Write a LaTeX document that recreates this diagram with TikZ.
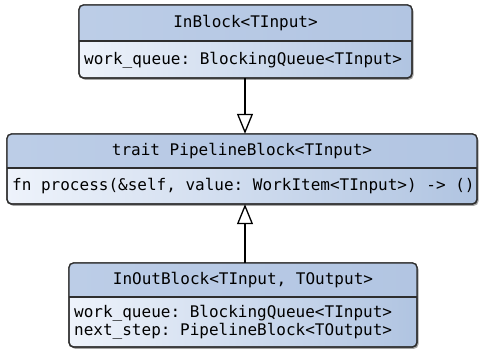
\documentclass[tikz,border=0pt]{standalone}
\usepackage{fontspec}
\setmonofont{DejaVu Sans Mono}
\usetikzlibrary{arrows.meta}
\definecolor{hdrL}{HTML}{BCCDE7}
\definecolor{hdrR}{HTML}{B2C5E2}
\definecolor{bodyL}{HTML}{EEF3FB}
\definecolor{bodyR}{HTML}{B0C4E1}
\definecolor{edge}{HTML}{2E2E2E}
\tikzset{
  x=1pt, y=-1pt,
  boxshape/.style={draw=edge, line width=1.3pt, rounded corners=4.5pt, left color=bodyL, right color=bodyR},
  shadowshape/.style={fill=black, opacity=0.35, rounded corners=4.5pt},
  hdrfill/.style={left color=hdrL, right color=hdrR},
  divider/.style={draw=edge, line width=1.1pt},
  txt/.style={font=\ttfamily\fontsize{16}{18}\selectfont, inner sep=0pt, text=black},
  bodytxt/.style={txt, anchor=west, align=left},
  conn/.style={draw=black, line width=1.3pt},
  genarrow/.style={conn, -{Triangle[open, width=16pt, length=20pt, line width=1.3pt]}},
}
\newcommand{\umlbox}[6]{% name, x1, y1, x2, y2, ydiv
  \path[shadowshape] (#2+1.5,#3+1.8) rectangle (#4+1.5,#5+1.8);
  \path[boxshape] (#2,#3) rectangle (#4,#5);
  \begin{scope}
    \clip[rounded corners=4.5pt] (#2,#3) rectangle (#4,#5);
    \path[hdrfill] (#2,#3) rectangle (#4,#6);
  \end{scope}
  \draw[draw=edge, line width=1.3pt, rounded corners=4.5pt] (#2,#3) rectangle (#4,#5);
  \draw[divider] (#2,#6) -- (#4,#6);
  \node[inner sep=0pt, minimum width=#4pt-#2pt, minimum height=#5pt-#3pt] (#1) at ({(#2+#4)/2},{(#3+#5)/2}) {};
}
\begin{document}
\begin{tikzpicture}
\useasboundingbox (0,0) rectangle (480,353);
% boxes
\umlbox{inb}{79}{5}{412}{78}{41}
\umlbox{pipe}{7}{134}{477}{204}{168}
\umlbox{inout}{69}{263}{417}{347}{297}
% texts
\node[txt] (inbh) at (245.5,23) {InBlock<TInput>};
\node[bodytxt] (inbb) at (84,60) {work\_queue: BlockingQueue<TInput>};
\node[txt] (pipeh) at (242,151) {trait PipelineBlock<TInput>};
\node[bodytxt] (pipeb) at (12,186) {fn process(\&self, value: WorkItem<TInput>) -> ()};
\node[txt] (inouth) at (243,280) {InOutBlock<TInput, TOutput>};
\node[bodytxt] (inoutb) at (74,322) {work\_queue: BlockingQueue<TInput>\\next\_step: PipelineBlock<TOutput>};
% connectors
\coordinate (ax) at (245,0);
\draw[genarrow] (inb.south -| ax) -- (pipe.north -| ax);
\draw[genarrow] (inout.north -| ax) -- (pipe.south -| ax);
\end{tikzpicture}
\end{document}
